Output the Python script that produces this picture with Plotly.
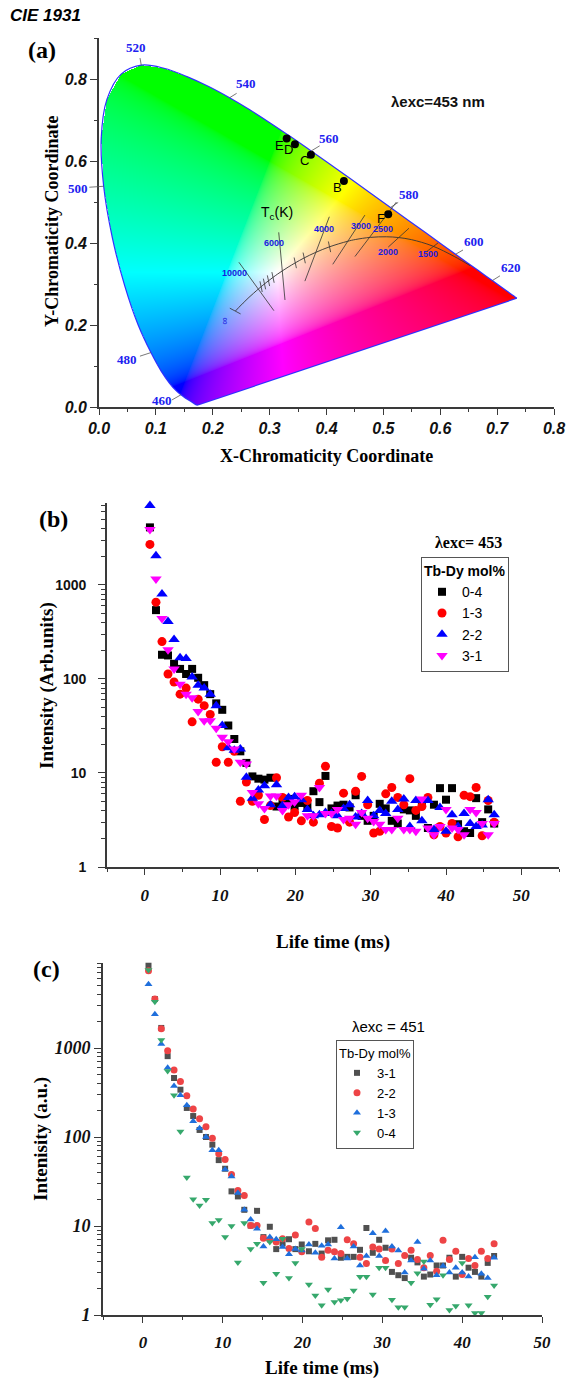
import base64, struct, zlib
import numpy as np
import plotly.graph_objects as go

FIG_W, FIG_H = 574, 1380

# ---------------- Panel (a): CIE 1931 data ----------------
LOCUS_NM = [380,385,390,395,400,405,410,415,420,425,430,435,440,445,450,455,460,465,470,475,
            480,485,490,495,500,505,510,515,520,525,530,535,540,545,550,555,560,565,570,575,
            580,585,590,595,600,605,610,615,620,625,630,635,640,645,650,655,660,665,670,675,
            680,685,690,695,700]
LOCUS_X = [0.1741,0.1740,0.1738,0.1736,0.1733,0.1730,0.1726,0.1721,0.1714,0.1703,0.1689,0.1669,
           0.1644,0.1611,0.1566,0.1510,0.1440,0.1355,0.1241,0.1096,0.0913,0.0687,0.0454,0.0235,
           0.0082,0.0039,0.0139,0.0389,0.0743,0.1142,0.1547,0.1929,0.2296,0.2658,0.3016,0.3373,
           0.3731,0.4087,0.4441,0.4788,0.5125,0.5448,0.5752,0.6029,0.6270,0.6482,0.6658,0.6801,
           0.6915,0.7006,0.7079,0.7140,0.7190,0.7230,0.7260,0.7283,0.7300,0.7311,0.7320,0.7327,
           0.7334,0.7340,0.7344,0.7346,0.7347]
LOCUS_Y = [0.0050,0.0050,0.0049,0.0049,0.0048,0.0048,0.0048,0.0048,0.0051,0.0058,0.0069,0.0086,
           0.0109,0.0138,0.0177,0.0227,0.0297,0.0399,0.0578,0.0868,0.1327,0.2007,0.2950,0.4127,
           0.5384,0.6548,0.7502,0.8120,0.8338,0.8262,0.8059,0.7816,0.7543,0.7243,0.6923,0.6589,
           0.6245,0.5896,0.5547,0.5202,0.4866,0.4544,0.4242,0.3965,0.3725,0.3514,0.3340,0.3197,
           0.3083,0.2993,0.2920,0.2859,0.2809,0.2770,0.2740,0.2717,0.2700,0.2689,0.2680,0.2673,
           0.2666,0.2660,0.2656,0.2654,0.2653]

WL_LABELS = ["460", "480", "500", "520", "540", "560", "580", "600", "620"]
WL_POINT_X = [0.1440, 0.0913, 0.0082, 0.0743, 0.2296, 0.3731, 0.5125, 0.6270, 0.6915]
WL_POINT_Y = [0.0297, 0.1327, 0.5384, 0.8338, 0.7543, 0.6245, 0.4866, 0.3725, 0.3083]
WL_TICK_X = [0.128, 0.072, -0.017, 0.0721, 0.242, 0.388, 0.526, 0.640, 0.705]
WL_TICK_Y = [0.017, 0.124, 0.536, 0.851, 0.765, 0.637, 0.499, 0.383, 0.320]
WL_LABEL_X = [0.110, 0.049, -0.0375, 0.065, 0.258, 0.405, 0.545, 0.659, 0.7236]
WL_LABEL_Y = [0.017, 0.116, 0.533, 0.876, 0.790, 0.655, 0.519, 0.403, 0.340]

PLANCK_X = [0.6528,0.6250,0.5857,0.5497,0.5267,0.5056,0.4770,0.4513,0.4369,0.4053,0.3805,0.3608,
            0.3451,0.3325,0.3221,0.3135,0.3064,0.2952,0.2869,0.2807,0.2719,0.2637,0.2565,0.2501,0.2399]
PLANCK_Y = [0.3444,0.3669,0.3931,0.4081,0.4133,0.4152,0.4137,0.4086,0.4041,0.3907,0.3768,0.3636,
            0.3516,0.3411,0.3318,0.3237,0.3166,0.3048,0.2956,0.2884,0.2776,0.2674,0.2577,0.2489,0.2342]

ISO_LABELS = ["10000", "6000", "4000", "3000", "2500", "2000", "1500"]
ISO_LABEL_X = [0.2385, 0.3076, 0.396, 0.461, 0.4997, 0.509, 0.578]
ISO_LABEL_Y = [0.326, 0.399, 0.434, 0.4415, 0.433, 0.377, 0.373]
ISO_X1 = [0.246, 0.316, 0.405, 0.4675, 0.523, 0.545, 0.596, 0.230]
ISO_Y1 = [0.353, 0.426, 0.464, 0.468, 0.500, 0.436, 0.400, 0.241]
ISO_X2 = [0.3075, 0.327, 0.362, 0.411, 0.450, 0.5085, 0.576, 0.249]
ISO_Y2 = [0.235, 0.261, 0.307, 0.348, 0.367, 0.390, 0.379, 0.227]
MINOR_ISO_X = [0.285, 0.291, 0.298, 0.306, 0.3451, 0.3608, 0.4053]
MINOR_ISO_Y = [0.2935, 0.300, 0.308, 0.316, 0.3516, 0.3636, 0.3907]

SAMPLE_NAMES = ["E", "D", "C", "B", "F"]
SAMPLE_X = [0.330, 0.3445, 0.3726, 0.4306, 0.5085]
SAMPLE_Y = [0.655, 0.641, 0.615, 0.551, 0.470]
SAMPLE_LX = [0.3176, 0.334, 0.361, 0.419, 0.496]
SAMPLE_LY = [0.638, 0.627, 0.601, 0.536, 0.460]

# ---------------- Panel (b) data ----------------
TIME_B = [0.7,1.5,2.3,3.1,3.9,4.7,5.5,6.3,7.1,7.9,8.7,9.5,10.3,11.1,11.9,12.7,13.5,14.3,15.1,15.9,
          16.7,17.5,18.3,19.1,19.9,20.8,21.6,22.4,23.2,24.0,24.8,25.6,26.4,27.2,28.0,28.8,29.6,30.4,
          31.2,32.0,32.8,33.6,34.4,35.2,36.0,36.8,37.6,38.4,39.2,40.0,40.8,41.6,42.4,43.2,44.0,44.8,
          45.6,46.4]
B_04 = [4100,540,181,178,145,128,113,128,103,86,69,55,47,32,23,17,12.8,9.2,8.7,8.5,8.9,4.4,5.1,5.3,
        4.4,4.8,4.4,6.4,4.9,9.3,4.2,4.5,4.6,4.3,5.8,3.5,3.1,3.5,4.7,4.2,3.1,2.9,4.1,4.0,3.5,4.7,2.6,
        4.6,6.9,5.2,6.9,2.85,2.4,2.3,5.4,3.0,4.1,2.9]
B_13 = [2700,657,250,113,93,69,80,35,61,52,42,13,19,13,17,5.0,8,5,5.8,3.2,4.5,8.9,5.5,3.4,3.8,3.1,
        5.1,3.0,7.8,11.8,2.7,2.6,6.1,3.0,6.4,9.2,4.6,2.3,2.4,6.0,7.0,5.5,4.6,8.7,4.0,4.4,5.5,2.2,2.7,
        2.3,2.9,2.1,5.8,5.6,7.0,2.15,5.1,3.0]
B_22 = [7000,2050,800,410,263,168,165,105,86,80,69,52,32,18.6,17.5,18,9,5.4,6.6,7.3,4.6,7.5,4.5,5.5,
        5.6,5.2,4.1,3.5,3.6,3.8,3.7,3.5,4.2,4.6,3.4,3.7,5.1,3.5,4.0,3.7,5.0,4.1,5.3,2.7,5.1,3.1,5.1,
        2.5,4.3,2.4,3.6,2.7,3.7,2.9,2.7,2.8,5.2,3.6]
B_31 = [3900,1160,440,205,128,88,69,63,45,36,36,30,24,21.5,18,13,12.5,6.2,4.7,4.2,5.7,5.7,4.0,4.6,
        4.9,5.8,3.5,3.5,7.0,3.7,3.7,4.1,3.2,3.3,2.85,3.8,3.3,3.05,2.85,2.5,2.5,3.3,2.5,2.5,2.4,5.3,
        2.6,2.2,2.7,4.1,2.6,2.5,2.2,4.1,3.8,2.9,2.2,2.9]
B_NAMES = ["0-4", "1-3", "2-2", "3-1"]

# ---------------- Panel (c) data ----------------
TIME_C = [0.7,1.5,2.3,3.1,3.9,4.7,5.5,6.3,7.1,7.9,8.7,9.5,10.3,11.1,11.9,12.7,13.5,14.3,15.1,15.9,
          16.7,17.5,18.3,19.1,19.9,20.8,21.6,22.4,23.2,24.0,24.8,25.6,26.4,27.2,28.0,28.8,29.6,30.4,
          31.2,32.0,32.8,33.6,34.4,35.2,36.0,36.8,37.6,38.4,39.2,40.0,40.8,41.6,42.4,43.2,44.0]
C_31 = [8400,3550,1680,810,460,340,212,172,120,100,82,55,44,24.5,21.5,15.2,10.1,14.8,7.5,9.8,5.5,
        6.35,7.1,5.5,6.2,5.2,6.3,4.9,6.9,7.0,4.4,4.5,4.5,5.4,9.5,5.0,7.0,5.7,3.05,2.8,2.6,4.4,3.9,
        2.7,2.85,3.6,3.6,4.4,2.7,4.5,3.4,3.05,2.7,3.85,4.6]
C_22 = [7400,3550,1650,930,565,420,290,206,160,130,97,65,56,38,25,22,10.1,10.1,7.3,7.0,6.6,7.2,5.6,
        7.9,5.15,11.1,9.4,4.45,5.35,5.15,4.9,7.0,6.3,4.45,3.8,5.8,5.5,4.1,5.5,3.8,4.65,5.35,4.2,3.4,
        4.65,3.1,6.9,4.2,5.2,2.85,4.3,3.6,5.2,4.3,6.3]
C_13 = [5200,2400,1110,600,375,295,228,150,125,100,71,71,43,36,23.5,15.2,11.8,9.3,5.9,7.5,7.1,5.8,
        4.8,5.5,5.3,6.2,5.0,6.0,6.2,4.3,9.7,4.3,5.9,3.6,4.6,8.3,4.6,8.8,5.9,5.3,3.0,4.1,6.6,3.3,4.1,
        2.8,3.55,3.0,3.4,3.0,2.7,4.45,2.9,2.6,4.4]
C_04 = [7500,3300,1230,550,295,115,35,20,17,19.7,10.8,11.7,7.5,10,3.9,10.8,5.5,6.3,2.3,6.6,2.9,7.2,
        2.6,3.85,5.5,2.2,1.66,1.29,1.93,1.4,1.46,1.52,1.88,2.69,2.69,1.7,3.4,3.4,1.48,1.22,1.22,2.3,
        2.94,4.0,1.3,1.5,2.8,1.14,1.26,3.85,1.29,1.05,1.05,1.6,2.15]
C_NAMES = ["3-1", "2-2", "1-3", "0-4"]

# ---------------- layout geometry (pixels) ----------------
A_LEFT, A_RIGHT, A_BOTTOM, A_TOP = 99, 554, 407, 38
A_XMAX, A_YMAX = 0.8, 0.9

def px_x(p):
    return p / FIG_W

def px_y(p):
    return 1 - p / FIG_H

def a_paper(x, y):
    """Map a CIE (x, y) value to paper coordinates of panel (a)."""
    pxl = A_LEFT + (A_RIGHT - A_LEFT) * x / A_XMAX
    pyl = A_BOTTOM - (A_BOTTOM - A_TOP) * y / A_YMAX
    return px_x(pxl), px_y(pyl)

def cie_png(w, h, xmax, ymax):
    xs = (np.arange(w) + 0.5) / w * xmax
    ys = ymax - (np.arange(h) + 0.5) / h * ymax
    X, Y = np.meshgrid(xs, ys)
    pxa = np.array(LOCUS_X); pya = np.array(LOCUS_Y)
    inside = np.zeros(X.shape, dtype=bool)
    n = len(pxa); j = n - 1
    for i in range(n):
        yi, yj = pya[i], pya[j]
        if yi != yj:
            xi, xj = pxa[i], pxa[j]
            crosses = (yi > Y) != (yj > Y)
            xint = (xj - xi) * (Y - yi) / (yj - yi) + xi
            inside ^= crosses & (X < xint)
        j = i
    Yc = np.maximum(Y, 1e-4)
    XX = X / Yc
    ZZ = (1 - X - Y) / Yc
    r = 3.2406 * XX - 1.5372 - 0.4986 * ZZ
    g = -0.9689 * XX + 1.8758 + 0.0415 * ZZ
    b = 0.0557 * XX - 0.2040 + 1.0570 * ZZ
    rgb = np.clip(np.stack([r, g, b], -1), 0, None)
    rgb = rgb / np.maximum(rgb.max(-1, keepdims=True), 1e-9)
    rgb = np.where(rgb <= 0.0031308, 12.92 * rgb, 1.055 * np.power(rgb, 1 / 2.4) - 0.055)
    rgba = np.zeros((h, w, 4), dtype=np.uint8)
    rgba[..., :3] = np.clip(rgb * 255 + 0.5, 0, 255).astype(np.uint8)
    rgba[..., 3] = np.where(inside, 255, 0).astype(np.uint8)
    raw = b"".join(b"\x00" + rgba[rr].tobytes() for rr in range(h))

    def chunk(t, d):
        c = struct.pack(">I", len(d)) + t + d
        return c + struct.pack(">I", zlib.crc32(t + d) & 0xFFFFFFFF)

    png = (b"\x89PNG\r\n\x1a\n" + chunk(b"IHDR", struct.pack(">IIBBBBB", w, h, 8, 6, 0, 0, 0))
           + chunk(b"IDAT", zlib.compress(raw, 9)) + chunk(b"IEND", b""))
    return "data:image/png;base64," + base64.b64encode(png).decode()

SERIF = "Liberation Serif"
SANS = "Liberation Sans"
AX_COL = "#3a3a3a"

fig = go.Figure()

# ---------------- Panel (a) traces ----------------
fig.add_trace(go.Scatter(x=LOCUS_X, y=LOCUS_Y, mode="lines", line=dict(color="#3030ff", width=1.2),
                         line_shape="spline", showlegend=False,
                         hoverinfo="skip", xaxis="x", yaxis="y"))
fig.add_trace(go.Scatter(x=[LOCUS_X[-1], LOCUS_X[0]], y=[LOCUS_Y[-1], LOCUS_Y[0]], mode="lines",
                         line=dict(color="#3030ff", width=1.2), showlegend=False,
                         hoverinfo="skip", xaxis="x", yaxis="y"))
fig.add_trace(go.Scatter(x=PLANCK_X, y=PLANCK_Y, mode="lines", line=dict(color="#333333", width=0.9),
                         line_shape="spline", showlegend=False, hoverinfo="skip", xaxis="x", yaxis="y"))
iso_x, iso_y = [], []
for x1, y1, x2, y2 in zip(ISO_X1, ISO_Y1, ISO_X2, ISO_Y2):
    iso_x += [x1, x2, None]; iso_y += [y1, y2, None]
for mx, my in zip(MINOR_ISO_X, MINOR_ISO_Y):
    iso_x += [mx - 0.002, mx + 0.002, None]; iso_y += [my + 0.013, my - 0.013, None]
fig.add_trace(go.Scatter(x=iso_x, y=iso_y, mode="lines", line=dict(color="#333333", width=0.8),
                         showlegend=False, hoverinfo="skip", xaxis="x", yaxis="y"))
fig.add_trace(go.Scatter(x=SAMPLE_X, y=SAMPLE_Y, mode="markers", marker=dict(color="black", size=8),
                         showlegend=False, hoverinfo="skip", xaxis="x", yaxis="y"))

# ---------------- Panel (b) traces ----------------
b_series = [B_04, B_13, B_22, B_31]
b_sym = ["square", "circle", "triangle-up", "triangle-down"]
b_col = ["#000000", "#ff0000", "#0000ff", "#ff00ff"]
b_size = [8, 9, 10, 10]
for name, vals, sym, col, sz in zip(B_NAMES, b_series, b_sym, b_col, b_size):
    fig.add_trace(go.Scatter(x=TIME_B, y=vals, mode="markers", name=name, cliponaxis=False,
                             marker=dict(symbol=sym, color=col, size=sz, line=dict(width=0)),
                             xaxis="x2", yaxis="y2", legend="legend"))

# ---------------- Panel (c) traces ----------------
c_series = [C_31, C_22, C_13, C_04]
c_sym = ["square", "circle", "triangle-up", "triangle-down"]
c_col = ["#505050", "#ee4446", "#1f6fdc", "#36a86c"]
c_size = [6, 7, 7, 7]
for name, vals, sym, col, sz in zip(C_NAMES, c_series, c_sym, c_col, c_size):
    fig.add_trace(go.Scatter(x=TIME_C, y=vals, mode="markers", name=name, cliponaxis=False,
                             marker=dict(symbol=sym, color=col, size=sz, line=dict(width=0)),
                             xaxis="x3", yaxis="y3", legend="legend2"))

# ---------------- annotations ----------------
ann = []
shapes = []
def paper_text(text, cx, cy, size, family, bold=False, italic=False, angle=0, color="black", xanchor="center"):
    ann.append(dict(text=text, x=px_x(cx), y=px_y(cy), xref="paper", yref="paper", showarrow=False,
                    xanchor=xanchor, yanchor="middle", textangle=angle,
                    font=dict(family=family, size=size, color=color,
                              weight="bold" if bold else "normal",
                              style="italic" if italic else "normal")))

paper_text("CIE 1931", 8, 15, 17, SANS, bold=True, italic=True, xanchor="left")
paper_text("(a)", 42, 50, 24, SERIF, bold=True)
paper_text("(b)", 53, 519, 24, SERIF, bold=True)
paper_text("(c)", 47, 969, 24, SERIF, bold=True)
paper_text("X-Chromaticity Coordinate", 326, 456, 18, SERIF, bold=True)
paper_text("Y-Chromaticity Coordinate", 52, 222, 18, SERIF, bold=True, angle=-90)
paper_text("Intensity (Arb.units)", 47, 685, 19, SERIF, bold=True, angle=-90)
paper_text("Life time (ms)", 333, 942, 19, SERIF, bold=True)
paper_text("Intenisity (a.u.)", 41, 1139, 19, SERIF, bold=True, angle=-90)
paper_text("Life time (ms)", 322, 1368, 19, SERIF, bold=True)
paper_text("λexc= 453", 469, 542, 16, SERIF, bold=True)
paper_text("λexc = 451", 388, 1026, 15, SANS)

def a_text(text, x, y, size, family, color, bold=False, angle=0):
    ppx, ppy = a_paper(x, y)
    ann.append(dict(text=text, x=ppx, y=ppy, xref="paper", yref="paper", showarrow=False, textangle=angle,
                    xanchor="center", yanchor="middle",
                    font=dict(family=family, size=size, color=color, weight="bold" if bold else "normal")))

for lab, lx, ly in zip(WL_LABELS, WL_LABEL_X, WL_LABEL_Y):
    a_text(lab, lx, ly, 13, SERIF, "#2020f0", bold=True)
for px0, py0, tx, ty in zip(WL_POINT_X, WL_POINT_Y, WL_TICK_X, WL_TICK_Y):
    x0p, y0p = a_paper(px0, py0)
    x1p, y1p = a_paper(tx, ty)
    shapes.append(dict(type="line", xref="paper", yref="paper", x0=x0p, y0=y0p, x1=x1p, y1=y1p,
                       line=dict(color="#555555", width=0.8), layer="above"))
for lab, lx, ly in zip(ISO_LABELS, ISO_LABEL_X, ISO_LABEL_Y):
    a_text(lab, lx, ly, 9, SANS, "#1a1ae0", bold=True)
a_text("∞", 0.222, 0.2105, 10, SANS, "#1a1ae0", angle=90)
a_text("T<sub>c</sub>(K)", 0.3137, 0.473, 14, SANS, "black")
a_text("λexc=453 nm", 0.596, 0.744, 15, SANS, "#111111", bold=True)
for lab, lx, ly in zip(SAMPLE_NAMES, SAMPLE_LX, SAMPLE_LY):
    a_text(lab, lx, ly, 13, SANS, "black")

# ---------------- axes ----------------
def lin_axis(domain, rng, anchor, dtick, minor_dtick, font, fmt=None, ticklen=6, standoff=0):
    d = dict(domain=domain, range=rng, anchor=anchor, showline=True, linecolor=AX_COL, linewidth=1.6,
             ticks="outside", ticklen=ticklen, tickwidth=1.4, tickcolor=AX_COL, tick0=0, dtick=dtick,
             showgrid=False, zeroline=False, tickfont=font, automargin=False,
             ticklabelstandoff=standoff,
             minor=dict(dtick=minor_dtick, tick0=0, ticks="outside", ticklen=3, tickcolor=AX_COL,
                        tickwidth=1.2, showgrid=False))
    if fmt:
        d["tickformat"] = fmt
    return d

MINOR_LOG = [m * 10 ** k for k in range(4) for m in range(2, 10)]

def log_axis(domain, rng, anchor, font, standoff=0):
    return dict(domain=domain, range=rng, anchor=anchor, type="log", showline=True, linecolor=AX_COL,
                linewidth=1.6, ticks="outside", ticklen=7, tickwidth=1.4, tickcolor=AX_COL,
                tickvals=[1, 10, 100, 1000], ticktext=["1", "10", "100", "1000"],
                showgrid=False, zeroline=False, tickfont=font, automargin=False,
                ticklabelstandoff=standoff,
                minor=dict(tickvals=MINOR_LOG, ticks="outside", ticklen=4, tickcolor=AX_COL,
                           tickwidth=1.2, showgrid=False))

font_a = dict(family=SANS, size=16, color="#111111", weight="bold", style="italic")
font_bx = dict(family=SERIF, size=17, color="#111111", weight="bold", style="italic")
font_by = dict(family=SANS, size=14, color="#111111", weight="bold")
font_cy = dict(family=SERIF, size=18, color="#111111", weight="bold", style="italic")

xa = lin_axis([px_x(A_LEFT), px_x(A_RIGHT)], [0, A_XMAX], "y", 0.1, 0.05, font_a, ".1f")
ya = lin_axis([px_y(A_BOTTOM), px_y(A_TOP)], [0, A_YMAX], "x", 0.2, 0.1, font_a, ".1f", ticklen=7)
ya["tickvals"] = [0, 0.2, 0.4, 0.6, 0.8]
ya["ticktext"] = ["0.0", "0.2", "0.4", "0.6", "0.8"]

xb = lin_axis([px_x(107), px_x(559)], [-5, 55], "y2", 10, 5, font_bx, standoff=6)
yb = log_axis([px_y(867), px_y(503)], [0, 3.872], "x2", font_by, standoff=9)
xc = lin_axis([px_x(103), px_x(542)], [-5, 50], "y3", 10, 5, font_bx, standoff=5)
yc = log_axis([px_y(1315), px_y(963)], [0, 3.955], "x3", font_cy)

legend_common = dict(bgcolor="white", bordercolor="#555555", borderwidth=1, xanchor="left",
                     yanchor="top", tracegroupgap=0)

fig.update_layout(
    template="none",
    width=FIG_W, height=FIG_H, margin=dict(l=0, r=0, t=0, b=0, autoexpand=False),
    paper_bgcolor="white", plot_bgcolor="white",
    xaxis=xa, yaxis=ya, xaxis2=xb, yaxis2=yb, xaxis3=xc, yaxis3=yc,
    annotations=ann, shapes=shapes,
    legend=dict(x=px_x(421), y=px_y(557),
                title=dict(text="Tb-Dy mol%", font=dict(family=SANS, size=14, color="black", weight="bold")),
                font=dict(family=SANS, size=14, color="black"), **legend_common),
    legend2=dict(x=px_x(336), y=px_y(1040),
                 title=dict(text="Tb-Dy mol%", font=dict(family=SANS, size=13, color="black")),
                 font=dict(family=SANS, size=13, color="black"), **legend_common),
    images=[dict(source=cie_png(455, 369, A_XMAX, A_YMAX), xref="x", yref="y", x=0, y=A_YMAX,
                 sizex=A_XMAX, sizey=A_YMAX, sizing="stretch", xanchor="left", yanchor="top",
                 layer="below")],
    showlegend=True,
)

fig.write_html("out.html", config={"displayModeBar": False},
               post_script="document.body.style.margin='0';document.body.style.padding='0';")
